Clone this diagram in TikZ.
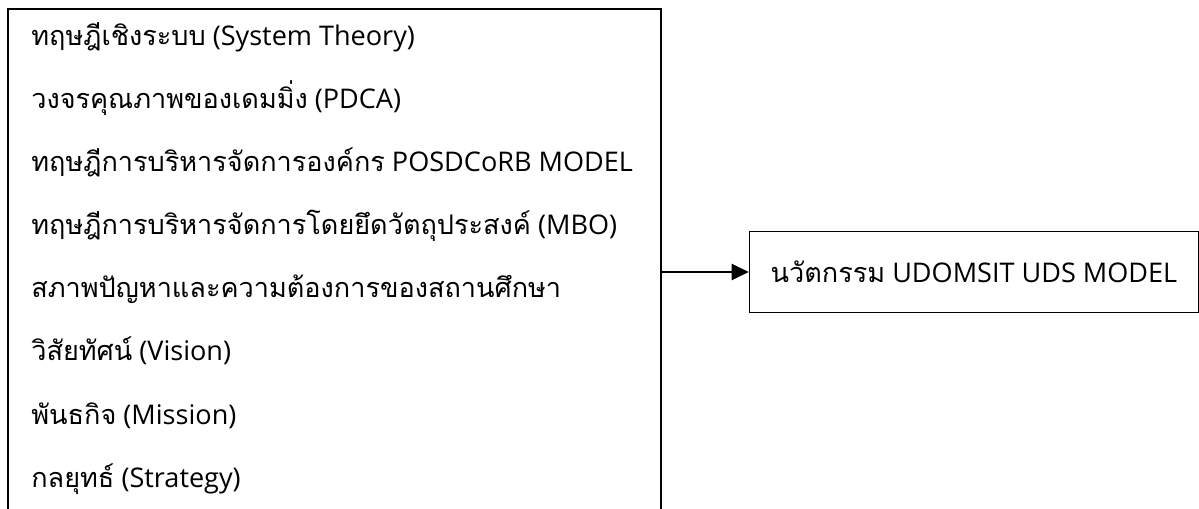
\documentclass[tikz,border=0pt]{standalone}
\usepackage{fontspec}
\setmainfont{Open Sans}
\newfontfamily\thaifont[Script=Thai]{Loma}
\usetikzlibrary{positioning,arrows.meta}

\begin{document}
\begin{tikzpicture}[
        x=0.02cm, y=0.02cm,
        box/.style={draw, line width=0.9pt, inner sep=0pt},
        item/.style={anchor=base west, inner sep=0pt, font=\fontsize{15.4}{18}\selectfont},
        link/.style={draw, line width=1.3pt, -{Triangle[length=3.4mm,width=3.2mm]}}
    ]
    \useasboundingbox (0,0) rectangle (1199,-509);
    \clip (0,0) rectangle (1199,-509);
    % input box, its bottom edge runs off the page
    \node[box, minimum width=13.06cm, minimum height=10.52cm] (inputs) at (334.5,-272) {};
    \foreach \txt [count=\i] in {
        {\thaifont ทฤษฎีเชิงระบบ} (System Theory),
        {\thaifont วงจรคุณภาพของเดมมิ่ง} (PDCA),
        {\thaifont ทฤษฎีการบริหารจัดการองค์กร} POSDCoRB MODEL,
        {\thaifont ทฤษฎีการบริหารจัดการโดยยึดวัตถุประสงค์} (MBO),
        {\thaifont สภาพปัญหาและความต้องการของสถานศึกษา},
        {\thaifont วิสัยทัศน์} (Vision),
        {\thaifont พันธกิจ} (Mission),
        {\thaifont กลยุทธ์} (Strategy)}
        \node[item] (line\i) at (31,{-46-63*(\i-1)}) {\txt};
    \node[box, right=1.74cm of inputs, minimum width=8.98cm, minimum height=1.62cm,
        font=\fontsize{15.4}{18}\selectfont] (model) {{\thaifont นวัตกรรม} UDOMSIT UDS MODEL};
    \draw[link] (inputs) -- (model);
\end{tikzpicture}
\end{document}
